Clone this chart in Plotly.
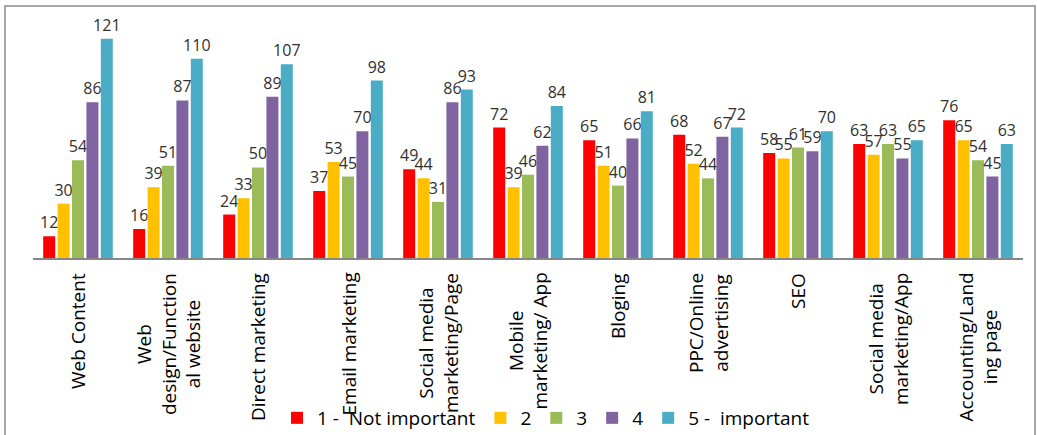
import plotly.graph_objects as go

categories = [
    "Web Content",
    "Web<br>design/Function<br>al website",
    "Direct marketing",
    "Email marketing",
    "Social media<br>marketing/Page",
    "Mobile<br>marketing/ App",
    "Bloging",
    "PPC/Online<br>advertising",
    "SEO",
    "Social media<br>marketing/App",
    "Accounting/Land<br>ing page",
]
series_names = ["1 -\u00a0 Not important", "2", "3", "4", "5 -\u00a0 important"]
s1 = [12, 16, 24, 37, 49, 72, 65, 68, 58, 63, 76]
s2 = [30, 39, 33, 53, 44, 39, 51, 52, 55, 57, 65]
s3 = [54, 51, 50, 45, 31, 46, 40, 44, 61, 63, 54]
s4 = [86, 87, 89, 70, 86, 62, 66, 67, 59, 55, 45]
s5 = [121, 110, 107, 98, 93, 84, 81, 72, 70, 65, 63]
colors = ["#FF0000", "#FFC000", "#9BBB59", "#8064A2", "#4BACC6"]

W, H = 1037, 435
ML, MR, MT, MB = 33, 14, 10, 177
plot_w = W - ML - MR
plot_h = H - MT - MB

xs = list(range(len(categories)))
fig = go.Figure()
for name, vals, col in zip(series_names, [s1, s2, s3, s4, s5], colors):
    fig.add_trace(go.Bar(
        x=xs, y=vals, name=name, marker=dict(color=col, line=dict(width=0)),
        text=[str(v) for v in vals], textposition="outside",
        textfont=dict(family="Open Sans", size=16, color="#303030"),
        constraintext="none", cliponaxis=False,
    ))

annotations = []
for i, c in enumerate(categories):
    annotations.append(dict(
        x=i, xref="x", y=0, yref="paper", yanchor="top", xanchor="center",
        text=c, textangle=-90, showarrow=False, align="center", yshift=-13,
        font=dict(family="Open Sans", size=19, color="#000000"),
    ))

def px_x(p):
    return (p - ML) / plot_w

def px_y(p):
    return (H - MB - p) / plot_h

fig.update_layout(
    width=W, height=H,
    margin=dict(l=ML, r=MR, t=MT, b=MB, pad=0, autoexpand=False),
    paper_bgcolor="white", plot_bgcolor="white",
    barmode="group", bargap=0.2, bargroupgap=0.167,
    xaxis=dict(range=[-0.5, len(categories) - 0.5], showticklabels=False,
               showline=True, linecolor="#868686", linewidth=1.5,
               showgrid=False, zeroline=False, ticks=""),
    yaxis=dict(range=[0, plot_h / 1.811], visible=False, showgrid=False),
    showlegend=True,
    legend=dict(orientation="h", x=px_x(546), xanchor="center",
                y=px_y(418), yanchor="middle", bgcolor="rgba(0,0,0,0)",
                font=dict(family="Open Sans", size=19, color="#000000"),
                itemwidth=30, tracegroupgap=0),
    annotations=annotations,
    shapes=[dict(type="rect", xref="paper", yref="paper",
                 x0=px_x(5), x1=px_x(1035), y0=px_y(480), y1=px_y(6),
                 line=dict(color="#8c8c8c", width=1.5), fillcolor="rgba(0,0,0,0)",
                 layer="below")],
)

fig.write_html("out.html", config={"displayModeBar": False},
               post_script="document.body.style.margin='0';document.body.style.overflow='hidden';")
